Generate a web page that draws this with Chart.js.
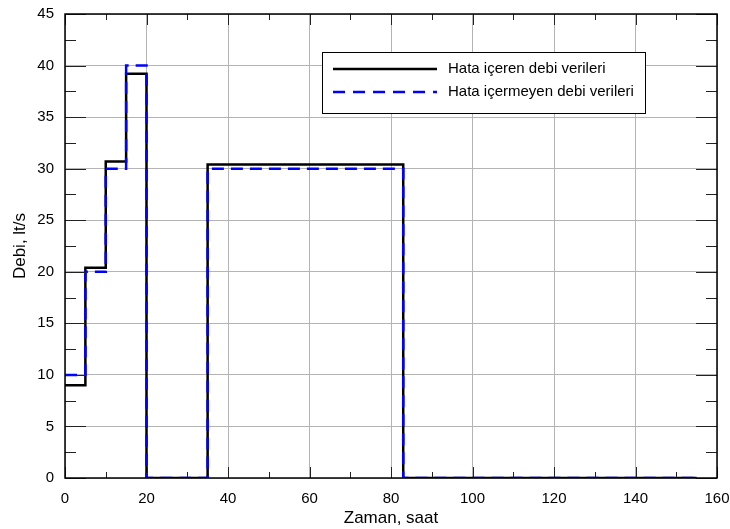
<!DOCTYPE html>
<html>
<head>
<meta charset="utf-8">
<script src="https://cdn.jsdelivr.net/npm/chart.js@4.4.1/dist/chart.umd.min.js"></script>
<style>
  body { margin: 0; background: #fff; }
  #wrap { width: 730px; height: 529px; }
</style>
</head>
<body>
<div id="wrap"><canvas id="myChart" width="730" height="529"></canvas></div>
<script>
// zaman (saat) - adimlarin baslangic noktalari
const zaman = [0, 5, 10, 15, 20, 35, 83, 155];
const hataliDebi = [9, 20.4, 30.7, 39.2, 0, 30.4, 0, 0];
const hatasizDebi = [10, 20, 30, 40, 0, 30, 0, 0];
const seriAdlari = ['Hata içeren debi verileri', 'Hata içermeyen debi verileri'];
const xTicks = [0, 20, 40, 60, 80, 100, 120, 140, 160];
const yTicks = [0, 5, 10, 15, 20, 25, 30, 35, 40, 45];

const fontName = '"Liberation Sans", Arial, sans-serif';

// her deger bir sonraki zamana kadar sabit kalir
function toPoints(ys) {
    const pts = [];
    zaman.forEach(function (x, i) {
        pts.push({ x: x, y: ys[i] });
    });
    return pts;
}

// etiket tasmalarinin cizim alanini daraltmasini engelle
function noPad(s) {
    s.paddingLeft = 0;
    s.paddingRight = 0;
    s.paddingTop = 0;
    s.paddingBottom = 0;
}

// ic tarafa dogru tik isaretleri, cerceve
const frameTicks = {
    id: 'frameTicks',
    afterDatasetsDraw(chart) {
        const ctx = chart.ctx, a = chart.chartArea;
        const xs = chart.scales.x, ys = chart.scales.y;
        ctx.save();
        ctx.strokeStyle = '#222';
        ctx.lineWidth = 1;
        ctx.beginPath();
        for (let v = xs.min; v <= xs.max; v += 10) {
            const px = Math.round(xs.getPixelForValue(v)) + 0.5;
            const len = (v % 20 === 0) ? 11 : 6;
            ctx.moveTo(px, a.bottom); ctx.lineTo(px, a.bottom - len);
            ctx.moveTo(px, a.top); ctx.lineTo(px, a.top + len);
        }
        for (let v = ys.min; v <= ys.max; v += 2.5) {
            const py = Math.round(ys.getPixelForValue(v)) + 0.5;
            const len = (v % 5 === 0) ? 21 : 11;
            ctx.moveTo(a.left, py); ctx.lineTo(a.left + len, py);
            ctx.moveTo(a.right, py); ctx.lineTo(a.right - len, py);
        }
        ctx.stroke();
        ctx.strokeStyle = '#000';
        ctx.lineWidth = 1.5;
        ctx.strokeRect(a.left, a.top, a.right - a.left, a.bottom - a.top);
        ctx.restore();
    },
    afterDraw(chart) {
        // lejant kutusu
        const ctx = chart.ctx, a = chart.chartArea;
        const bx = a.left + 257, by = a.top + 38, bw = 323, bh = 61;
        ctx.save();
        ctx.fillStyle = '#fff';
        ctx.fillRect(bx, by, bw, bh);
        ctx.strokeStyle = '#000';
        ctx.lineWidth = 1;
        ctx.strokeRect(bx + 0.5, by + 0.5, bw, bh);
        const rows = [
            { label: seriAdlari[0], color: '#000', dash: [] },
            { label: seriAdlari[1], color: '#0000ff', dash: [12, 8] }
        ];
        rows.forEach(function (r, i) {
            const ly = by + 17 + i * 23;
            ctx.beginPath();
            ctx.setLineDash(r.dash);
            ctx.strokeStyle = r.color;
            ctx.lineWidth = 2.5;
            ctx.moveTo(bx + 11, ly);
            ctx.lineTo(bx + 115, ly);
            ctx.stroke();
            ctx.setLineDash([]);
            ctx.fillStyle = '#000';
            ctx.font = '15px ' + fontName;
            ctx.textBaseline = 'middle';
            ctx.fillText(r.label, bx + 126, ly);
        });
        ctx.restore();
    }
};

const config = {
    type: 'line',
    data: {
        datasets: [{
            label: seriAdlari[0],
            data: toPoints(hataliDebi),
            borderColor: '#000',
            borderWidth: 2.5,
            stepped: 'before',
            pointRadius: 0,
            fill: false,
            order: 1
        }, {
            label: seriAdlari[1],
            data: toPoints(hatasizDebi),
            borderColor: '#0000ff',
            borderWidth: 2.5,
            borderDash: [12, 7],
            stepped: 'before',
            pointRadius: 0,
            fill: false,
            order: 0
        }]
    },
    options: {
        responsive: false,
        animation: false,
        layout: { autoPadding: false, padding: { left: 0, right: 13, top: 14, bottom: 0 } },
        plugins: {
            legend: { display: false },
            tooltip: { enabled: false }
        },
        scales: {
            x: {
                type: 'linear',
                min: 0,
                max: 160,
                afterBuildTicks: function (s) { s.ticks = xTicks.map(function (v) { return { value: v }; }); },
                afterFit: function (s) { s.height = 51; noPad(s); },
                ticks: { color: '#000', padding: 12, maxRotation: 0, font: { family: fontName, size: 15 } },
                grid: { color: '#b4b4b4', lineWidth: 1, drawTicks: false },
                border: { display: false },
                title: {
                    display: true,
                    text: 'Zaman, saat',
                    color: '#000',
                    font: { family: fontName, size: 17 },
                    padding: { top: 0, bottom: 0 }
                }
            },
            y: {
                min: 0,
                max: 45,
                afterBuildTicks: function (s) { s.ticks = yTicks.map(function (v) { return { value: v }; }); },
                afterFit: function (s) { s.width = 65; noPad(s); },
                ticks: { color: '#000', padding: 11, font: { family: fontName, size: 15 } },
                grid: { color: '#b4b4b4', lineWidth: 1, drawTicks: false },
                border: { display: false },
                title: {
                    display: true,
                    text: 'Debi, lt/s',
                    color: '#000',
                    font: { family: fontName, size: 17 },
                    padding: { top: 10, bottom: 0 }
                }
            }
        }
    },
    plugins: [frameTicks]
};

const myChart = new Chart(document.querySelector('#myChart'), config);
</script>
</body>
</html>
